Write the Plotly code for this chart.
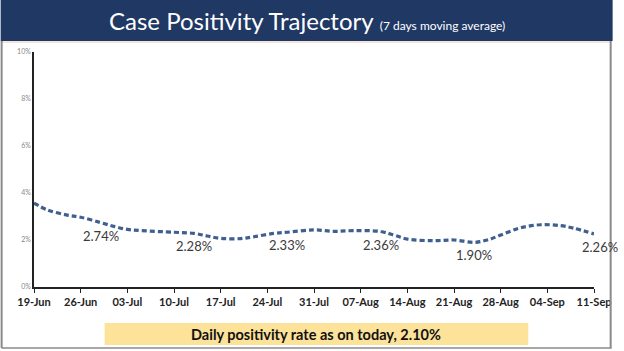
import plotly.graph_objects as go
import pandas as pd

# ---- data ----
start_date = "2020-06-19"
day_offsets = [0, 2, 5, 7, 10, 12, 14, 16, 21, 24, 26, 28, 31, 33, 36, 38,
               42, 45, 48, 52, 54, 56, 60, 63, 66, 68, 70, 73, 76, 79, 81, 84]
positivity = [3.57, 3.28, 3.06, 2.97, 2.74, 2.58, 2.45, 2.40, 2.33, 2.28, 2.17, 2.07,
              2.06, 2.14, 2.28, 2.33, 2.43, 2.37, 2.40, 2.36, 2.21, 2.04, 1.97, 2.00,
              1.90, 2.00, 2.21, 2.52, 2.65, 2.61, 2.50, 2.26]
label_days = [10, 24, 38, 52, 66, 84]
label_texts = ["2.74%", "2.28%", "2.33%", "2.36%", "1.90%", "2.26%"]
y_ticks = [0, 2, 4, 6, 8, 10]
y_tick_text = ["0%", "2%", "4%", "6%", "8%", "10%"]
title_main = "Case Positivity Trajectory"
title_sub = "(7 days moving average)"
footer_text = "Daily positivity rate as on today, 2.10%"

base = pd.Timestamp(start_date)
dates = [base + pd.Timedelta(days=d) for d in day_offsets]
label_dates = [base + pd.Timedelta(days=d) for d in label_days]
label_vals = [positivity[day_offsets.index(d)] for d in label_days]
tick_dates = [base + pd.Timedelta(days=7 * i) for i in range(13)]

W, H = 624, 351
L, R, T, B = 34, 605, 52, 287


def px(x):
    return (x - L) / (R - L)


def py(y):
    return (B - y) / (B - T)


fig = go.Figure()
fig.add_trace(go.Scatter(
    x=dates, y=positivity, mode="lines",
    line=dict(color="#3f5f8f", width=3.2, dash="5px,3px", shape="spline", smoothing=1.0),
    hoverinfo="skip", showlegend=False,
))

annotations = []
for d, v, t in zip(label_dates, label_vals, label_texts):
    xs = 6 if t == label_texts[-1] else 0
    annotations.append(dict(
        x=d, y=v, xref="x", yref="y", text=t, showarrow=False,
        yshift=-13, xshift=xs, font=dict(family="Lato", size=13, color="#3a3a3a"),
    ))

annotations.append(dict(
    x=px(312), y=py(21), xref="paper", yref="paper",
    text=f"<span style='font-size:24px'>{title_main}</span>"
         f"<span style='font-size:12px'>  {title_sub}</span>",
    showarrow=False, font=dict(family="Lato", color="white"),
    xanchor="center", yanchor="middle",
))
annotations.append(dict(
    x=px(322), y=py(334), xref="paper", yref="paper", text=f"<b>{footer_text}</b>",
    showarrow=False, font=dict(family="Lato", size=14.5, color="#111111"),
    xanchor="center", yanchor="middle",
))

shapes = [
    # banner
    dict(type="rect", xref="paper", yref="paper", x0=px(0), x1=px(W), y0=py(41), y1=py(0),
         fillcolor="#1f3864", line=dict(width=0), layer="below"),
    dict(type="line", xref="paper", yref="paper", x0=px(1), x1=px(623), y0=py(42), y1=py(42),
         line=dict(color="#e8c9b0", width=1)),
    # frame
    dict(type="line", xref="paper", yref="paper", x0=px(1), x1=px(1), y0=py(41), y1=py(348),
         line=dict(color="#8a8a8a", width=2)),
    dict(type="line", xref="paper", yref="paper", x0=px(622), x1=px(622), y0=py(41), y1=py(348),
         line=dict(color="#8a8a8a", width=2)),
    dict(type="line", xref="paper", yref="paper", x0=px(1), x1=px(623), y0=py(348), y1=py(348),
         line=dict(color="#8a8a8a", width=1.5)),
    # footer box
    dict(type="rect", xref="paper", yref="paper", x0=px(106), x1=px(538), y0=py(345), y1=py(323),
         fillcolor="#fde39a", line=dict(width=0), layer="below"),
]

fig.update_layout(
    width=W, height=H, margin=dict(l=L, r=W - R, t=T, b=H - B),
    paper_bgcolor="white", plot_bgcolor="white",
    annotations=annotations, shapes=shapes,
    xaxis=dict(
        type="date", range=[tick_dates[0], tick_dates[-1]],
        tickvals=tick_dates, tickformat="%d-%b",
        showgrid=False, zeroline=False, showline=True, linecolor="#222222", linewidth=1.5,
        ticks="outside", ticklen=4, tickcolor="#222222",
        tickfont=dict(family="Lato", size=11, color="#222222", weight="bold"),
    ),
    yaxis=dict(
        range=[0, 10], tickvals=y_ticks, ticktext=y_tick_text,
        showgrid=False, zeroline=False, showline=True, linecolor="#222222", linewidth=1.5,
        ticks="", tickfont=dict(family="Lato", size=7, color="#888888"),
    ),
)

fig.write_html("out.html")
